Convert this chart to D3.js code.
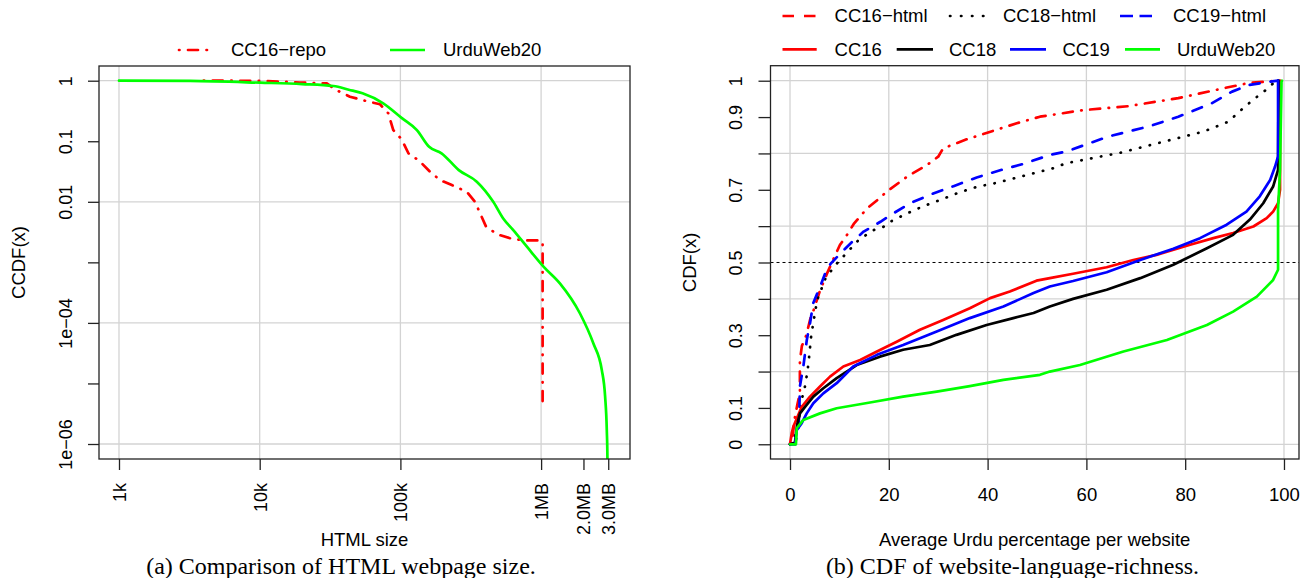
<!DOCTYPE html>
<html><head><meta charset="utf-8">
<script src="https://cdn.jsdelivr.net/npm/d3@7"></script>
<style>body{margin:0;background:#fff}svg{display:block}</style>
</head><body><svg id="c" width="1301" height="578"></svg>
<script>
// ---------------- Left panel data: CCDF of HTML size ----------------
const leftXTicks = [1e3, 1e4, 1e5, 1e6, 2e6, 3e6];
const leftXTickLabels = ["1k", "10k", "100k", "1MB", "2.0MB", "3.0MB"];
const leftXGrid = [1e3, 1e4, 1e5, 1e6];
const leftYTicks = [1, 0.1, 0.01, 1e-3, 1e-4, 1e-5, 1e-6];
const leftYTickLabels = ["1", "0.1", "0.01", "", "1e\u221204", "", "1e\u221206"];
const leftYGrid = [1, 1e-2, 1e-4, 1e-6];

const cc16RepoSize = [4.0e3, 6.45e3, 1.04e4, 1.93e4, 3.0e4, 3.5e4, 4.38e4, 5.6e4, 7.16e4, 8.2e4, 8.9e4, 1.02e5, 1.14e5, 1.36e5, 1.62e5, 1.91e5, 2.32e5, 2.96e5, 3.39e5, 3.68e5, 4.06e5, 4.88e5, 6.01e5, 7.47e5, 9.82e5, 1.025e6, 1.025e6];
const cc16RepoCCDF = [1.0, 1.0, 0.99, 0.934, 0.90, 0.70, 0.544, 0.467, 0.408, 0.29, 0.153, 0.108, 0.0633, 0.0477, 0.0315, 0.0229, 0.0189, 0.0147, 0.01, 0.0065, 0.0039, 0.0029, 0.0025, 0.0023, 0.0023, 0.0022, 4.9e-6];

const urduWebSize = [1e3, 3.2e3, 1.01e4, 2.0e4, 3.34e4, 4.3e4, 5.38e4, 7.55e4, 1.03e5, 1.31e5, 1.6e5, 1.96e5, 2.6e5, 3.49e5, 4.57e5, 5.38e5, 6.34e5, 7.9e5, 1.04e6, 1.36e6, 1.89e6, 2.35e6, 2.7e6, 2.85e6, 2.93e6, 2.96e6, 2.965e6];
const urduWebCCDF = [1, 0.99, 0.927, 0.88, 0.817, 0.71, 0.619, 0.424, 0.239, 0.153, 0.081, 0.0633, 0.0334, 0.0215, 0.01, 0.0053, 0.0034, 0.00183, 8.5e-4, 4.5e-4, 1.43e-4, 4.6e-5, 1.67e-5, 6.1e-6, 1.7e-6, 6e-7, 4e-7];

// ---------------- Right panel data: CDF of Urdu percentage ----------------
const rightXTicks = [0, 20, 40, 60, 80, 100];
const rightYTicks = [0, 0.1, 0.2, 0.3, 0.4, 0.5, 0.6, 0.7, 0.8, 0.9, 1];
const rightYTickLabels = ["0", "0.1", "", "0.3", "", "0.5", "", "0.7", "", "0.9", "1"];
const rightYGrid = [0, 0.2, 0.4, 0.6, 0.8, 1];
const rightRefLine = [0.5];

const cc16HtmlPct = [0, 0.3, 0.6, 1.0, 1.5, 2.0, 2.0, 2.4, 3.3, 4.2, 4.8, 6.0, 7.5, 8.8, 10.1, 11.4, 12.9, 15.6, 17.9, 19.6, 23.7, 27.7, 30.0, 31.0, 35.8, 41.1, 45.9, 50.6, 59.3, 68.5, 78.6, 88.7, 93.0, 98.8];
const cc16HtmlCdf = [0, 0.005, 0.03, 0.075, 0.11, 0.14, 0.23, 0.27, 0.30, 0.35, 0.37, 0.42, 0.47, 0.51, 0.548, 0.573, 0.606, 0.649, 0.674, 0.695, 0.736, 0.768, 0.791, 0.814, 0.839, 0.862, 0.883, 0.901, 0.919, 0.930, 0.952, 0.982, 0.994, 1.0];

const cc18HtmlPct = [0, 0.9, 1.7, 2.1, 3.1, 3.7, 4.3, 5.5, 7.2, 9.2, 11.5, 13.9, 16.9, 18.9, 20.3, 23.7, 27.0, 30.4, 34.1, 37.8, 41.8, 45.5, 49.2, 53.2, 55.9, 66.9, 77.0, 83.7, 88.7, 91.3, 93.7, 96.3, 98.0, 98.8];
const cc18HtmlCdf = [0, 0.017, 0.053, 0.108, 0.163, 0.218, 0.30, 0.397, 0.457, 0.493, 0.527, 0.562, 0.589, 0.598, 0.612, 0.635, 0.655, 0.672, 0.692, 0.708, 0.719, 0.732, 0.745, 0.759, 0.773, 0.802, 0.837, 0.86, 0.887, 0.919, 0.947, 0.974, 0.995, 1.0];

const cc19HtmlPct = [0, 1.0, 1.2, 1.7, 1.9, 2.0, 2.7, 3.4, 4.05, 4.7, 6.1, 7.4, 8.2, 10.2, 12.6, 14.9, 18.3, 20.9, 24.3, 29.0, 33.1, 37.8, 43.1, 47.2, 52.6, 55.9, 64.3, 72.8, 78.6, 85.4, 89.5, 92.9, 98.0, 98.8];
const cc19HtmlCdf = [0, 0.003, 0.012, 0.039, 0.10, 0.159, 0.214, 0.287, 0.333, 0.388, 0.434, 0.48, 0.496, 0.525, 0.557, 0.585, 0.612, 0.635, 0.663, 0.69, 0.71, 0.734, 0.756, 0.771, 0.796, 0.805, 0.846, 0.875, 0.901, 0.938, 0.97, 0.988, 0.999, 1.0];

const cc16Pct = [0, 0.34, 0.67, 2.37, 4.05, 6.07, 8.1, 10.8, 14.2, 17.6, 21.6, 26.3, 31.0, 36.4, 40.5, 44.5, 49.9, 52.6, 57.3, 64.1, 69.5, 74.2, 81.0, 85.7, 89.7, 93.8, 96.5, 97.8, 98.8, 99.2, 99.2];
const cc16Cdf = [0, 0.03, 0.048, 0.103, 0.131, 0.159, 0.186, 0.214, 0.232, 0.255, 0.282, 0.315, 0.342, 0.374, 0.402, 0.42, 0.45, 0.457, 0.469, 0.487, 0.507, 0.521, 0.549, 0.567, 0.581, 0.599, 0.622, 0.64, 0.663, 0.70, 1.0];

const cc18Pct = [0, 1.0, 1.4, 1.68, 2.02, 3.04, 4.72, 6.74, 9.45, 13.5, 18.2, 22.9, 28.3, 33.7, 39.8, 45.2, 49.3, 52.6, 57.3, 64.1, 70.9, 77.6, 84.4, 89.7, 93.1, 95.8, 97.8, 98.8, 98.9];
const cc18Cdf = [0, 0.005, 0.05, 0.067, 0.085, 0.103, 0.131, 0.154, 0.182, 0.218, 0.241, 0.26, 0.273, 0.301, 0.328, 0.347, 0.361, 0.379, 0.4, 0.425, 0.457, 0.494, 0.539, 0.576, 0.618, 0.663, 0.709, 0.755, 1.0];

const cc19Pct = [0, 1.1, 1.2, 1.36, 2.37, 3.38, 4.72, 6.74, 9.45, 12.8, 17.6, 22.9, 29.7, 36.4, 43.2, 49.3, 52.6, 57.3, 64.1, 70.9, 77.6, 83.0, 88.4, 92.4, 95.1, 97.2, 98.2, 98.8, 98.8];
const cc19Cdf = [0, 0, 0.02, 0.039, 0.058, 0.085, 0.113, 0.14, 0.168, 0.214, 0.246, 0.273, 0.31, 0.347, 0.379, 0.416, 0.434, 0.449, 0.473, 0.507, 0.538, 0.567, 0.604, 0.64, 0.682, 0.727, 0.764, 0.792, 1.0];

const urduPct = [0, 1.2, 1.36, 2.69, 6.07, 9.45, 16.2, 22.9, 29.7, 36.4, 43.2, 50.6, 52.6, 58.7, 67.5, 76.3, 84.4, 89.7, 94.5, 97.8, 98.8, 98.8, 99.2, 99.5, 99.6];
const urduCdf = [0, 0, 0.044, 0.067, 0.085, 0.099, 0.115, 0.131, 0.145, 0.16, 0.177, 0.191, 0.2, 0.218, 0.255, 0.287, 0.328, 0.365, 0.406, 0.452, 0.48, 0.645, 0.755, 0.997, 1.0];

// ---------------- text ----------------
const leftLegend = ["CC16\u2212repo", "UrduWeb20"];
const rightLegendRow1 = ["CC16\u2212html", "CC18\u2212html", "CC19\u2212html"];
const rightLegendRow2 = ["CC16", "CC18", "CC19", "UrduWeb20"];
const captions = ["(a) Comparison of HTML webpage size.", "(b) CDF of website-language-richness."];

// ---------------- drawing ----------------
const SANS = "'Liberation Sans', Arial, Helvetica, sans-serif";
const SERIF = "'Liberation Serif', 'Times New Roman', serif";
const LW = 2.7;
const GRID = "#d3d3d3";
const AX = "#222";
const FS = 18.5;
const DOTDASH = "0.5,8.5,10,8.5";
const DOTTED = "0.4,9.6";
const DASHED = "10,11";

const svg = d3.select("#c");
svg.append("rect").attr("width", 1301).attr("height", 578).attr("fill", "#fff");
const defs = svg.append("defs");

function makePanel(id, box) {
  defs.append("clipPath").attr("id", id).append("rect")
    .attr("x", box.l).attr("y", box.t).attr("width", box.r - box.l).attr("height", box.b - box.t);
  return svg.append("g");
}

// ===== Left panel =====
const LB = {l: 99, r: 630, t: 66, b: 459};
const Lx = d3.scaleLog().domain([Math.pow(10, 2.8579), Math.pow(10, 6.6318)]).range([LB.l, LB.r]);
const Ly = d3.scaleLog().domain([Math.pow(10, -6.2477), Math.pow(10, 0.2428)]).range([LB.b, LB.t]);
const gL = makePanel("clipL", LB);

gL.selectAll("line.gx").data(leftXGrid).join("line").attr("class", "gx")
  .attr("x1", d => Lx(d)).attr("x2", d => Lx(d)).attr("y1", LB.t).attr("y2", LB.b)
  .attr("stroke", GRID).attr("stroke-width", 1.3);
gL.selectAll("line.gy").data(leftYGrid).join("line").attr("class", "gy")
  .attr("y1", d => Ly(d)).attr("y2", d => Ly(d)).attr("x1", LB.l).attr("x2", LB.r)
  .attr("stroke", GRID).attr("stroke-width", 1.3);

const lineL = d3.line().x(d => Lx(d[0])).y(d => Ly(d[1]));
const lineLSmooth = d3.line().x(d => Lx(d[0])).y(d => Ly(d[1])).curve(d3.curveMonotoneX);
const gLc = gL.append("g").attr("clip-path", "url(#clipL)");
gLc.append("path").datum(d3.zip(cc16RepoSize, cc16RepoCCDF)).attr("d", lineL)
  .attr("fill", "none").attr("stroke", "#ff0000").attr("stroke-width", LW)
  .attr("stroke-dasharray", DOTDASH).attr("stroke-linecap", "round").attr("stroke-linejoin", "round");
gLc.append("path").datum(d3.zip(urduWebSize, urduWebCCDF)).attr("d", lineLSmooth)
  .attr("fill", "none").attr("stroke", "#00ff00").attr("stroke-width", LW)
  .attr("stroke-linecap", "round").attr("stroke-linejoin", "round");

gL.append("rect").attr("x", LB.l).attr("y", LB.t).attr("width", LB.r - LB.l).attr("height", LB.b - LB.t)
  .attr("fill", "none").attr("stroke", AX).attr("stroke-width", 1.3);

// x axis (left)
const axLB = gL.append("g").attr("transform", `translate(0,${LB.b})`)
  .call(d3.axisBottom(Lx).tickValues(leftXTicks).tickFormat((d, i) => leftXTickLabels[i]).tickSize(11));
axLB.select(".domain").remove();
axLB.selectAll(".tick line").attr("stroke", AX).attr("stroke-width", 1.3);
axLB.selectAll(".tick text").attr("transform", "rotate(-90)").attr("text-anchor", "end")
  .attr("x", -24).attr("y", 0).attr("dy", "0.35em")
  .attr("font-family", SANS).attr("font-size", 18).attr("fill", "#000");

// y axis (left)
const axLL = gL.append("g").attr("transform", `translate(${LB.l},0)`)
  .call(d3.axisLeft(Ly).tickValues(leftYTicks).tickFormat((d, i) => leftYTickLabels[i]).tickSize(11));
axLL.select(".domain").remove();
axLL.selectAll(".tick line").attr("stroke", AX).attr("stroke-width", 1.3);
axLL.selectAll(".tick text").attr("transform", "rotate(-90)").attr("text-anchor", "middle")
  .attr("x", 0).attr("y", -33).attr("dy", "0.35em")
  .attr("font-family", SANS).attr("font-size", 18).attr("fill", "#000");

gL.append("text").attr("transform", `translate(19,${(LB.t + LB.b) / 2}) rotate(-90)`)
  .attr("text-anchor", "middle").attr("dy", "0.35em").attr("font-family", SANS).attr("font-size", FS)
  .text("CCDF(x)");
gL.append("text").attr("x", (LB.l + LB.r) / 2).attr("y", 540).attr("dy", "0.35em")
  .attr("text-anchor", "middle").attr("font-family", SANS).attr("font-size", FS).text("HTML size");

// left legend
gL.append("line").attr("x1", 179).attr("x2", 208).attr("y1", 50).attr("y2", 50)
  .attr("stroke", "#ff0000").attr("stroke-width", LW).attr("stroke-dasharray", DOTDASH).attr("stroke-linecap", "round");
gL.append("text").attr("x", 231).attr("y", 50).attr("dy", "0.35em").attr("font-family", SANS).attr("font-size", FS).text(leftLegend[0]);
gL.append("line").attr("x1", 390).attr("x2", 425).attr("y1", 50).attr("y2", 50)
  .attr("stroke", "#00ff00").attr("stroke-width", LW);
gL.append("text").attr("x", 443).attr("y", 50).attr("dy", "0.35em").attr("font-family", SANS).attr("font-size", FS).text(leftLegend[1]);

svg.append("text").attr("x", 341).attr("y", 566).attr("dy", "0.32em").attr("text-anchor", "middle")
  .attr("font-family", SERIF).attr("font-size", 24).text(captions[0]);

// ===== Right panel =====
const RB = {l: 770.5, r: 1299, t: 65.7, b: 459};
const Rx = d3.scaleLinear().domain([-3.95, 103.04]).range([RB.l, RB.r]);
const Ry = d3.scaleLinear().domain([-0.0405, 1.0413]).range([RB.b, RB.t]);
const gR = makePanel("clipR", RB);

gR.selectAll("line.gx").data(rightXTicks).join("line").attr("class", "gx")
  .attr("x1", d => Rx(d)).attr("x2", d => Rx(d)).attr("y1", RB.t).attr("y2", RB.b)
  .attr("stroke", GRID).attr("stroke-width", 1.3);
gR.selectAll("line.gy").data(rightYGrid).join("line").attr("class", "gy")
  .attr("y1", d => Ry(d)).attr("y2", d => Ry(d)).attr("x1", RB.l).attr("x2", RB.r)
  .attr("stroke", GRID).attr("stroke-width", 1.3);
gR.selectAll("line.ref").data(rightRefLine).join("line").attr("class", "ref")
  .attr("y1", d => Ry(d)).attr("y2", d => Ry(d)).attr("x1", RB.l).attr("x2", RB.r)
  .attr("stroke", "#000").attr("stroke-width", 1).attr("stroke-dasharray", "3,3");

const lineR = d3.line().x(d => Rx(d[0])).y(d => Ry(d[1]));
const gRc = gR.append("g").attr("clip-path", "url(#clipR)");
const rSeries = [
  {x: cc16HtmlPct, y: cc16HtmlCdf, c: "#ff0000", dash: DOTDASH},
  {x: cc18HtmlPct, y: cc18HtmlCdf, c: "#000000", dash: DOTTED},
  {x: cc19HtmlPct, y: cc19HtmlCdf, c: "#0000ff", dash: DASHED},
  {x: cc16Pct, y: cc16Cdf, c: "#ff0000", dash: null},
  {x: cc18Pct, y: cc18Cdf, c: "#000000", dash: null},
  {x: cc19Pct, y: cc19Cdf, c: "#0000ff", dash: null},
  {x: urduPct, y: urduCdf, c: "#00ff00", dash: null}
];
rSeries.forEach(s => {
  const p = gRc.append("path").datum(d3.zip(s.x, s.y)).attr("d", lineR)
    .attr("fill", "none").attr("stroke", s.c).attr("stroke-width", LW)
    .attr("stroke-linecap", "round").attr("stroke-linejoin", "round");
  if (s.dash) p.attr("stroke-dasharray", s.dash);
});

gR.append("rect").attr("x", RB.l).attr("y", RB.t).attr("width", RB.r - RB.l).attr("height", RB.b - RB.t)
  .attr("fill", "none").attr("stroke", AX).attr("stroke-width", 1.3);

const axRB = gR.append("g").attr("transform", `translate(0,${RB.b})`)
  .call(d3.axisBottom(Rx).tickValues(rightXTicks).tickFormat(d3.format("d")).tickSize(11));
axRB.select(".domain").remove();
axRB.selectAll(".tick line").attr("stroke", AX).attr("stroke-width", 1.3);
axRB.selectAll(".tick text").attr("y", 36).attr("dy", "0.35em")
  .attr("font-family", SANS).attr("font-size", FS).attr("fill", "#000");

const axRL = gR.append("g").attr("transform", `translate(${RB.l},0)`)
  .call(d3.axisLeft(Ry).tickValues(rightYTicks).tickFormat((d, i) => rightYTickLabels[i]).tickSize(12));
axRL.select(".domain").remove();
axRL.selectAll(".tick line").attr("stroke", AX).attr("stroke-width", 1.3);
axRL.selectAll(".tick text").attr("transform", "rotate(-90)").attr("text-anchor", "middle")
  .attr("x", 0).attr("y", -35).attr("dy", "0.35em")
  .attr("font-family", SANS).attr("font-size", 18).attr("fill", "#000");

gR.append("text").attr("transform", `translate(690,${(RB.t + RB.b) / 2}) rotate(-90)`)
  .attr("text-anchor", "middle").attr("dy", "0.35em").attr("font-family", SANS).attr("font-size", FS)
  .text("CDF(x)");
gR.append("text").attr("x", (RB.l + RB.r) / 2).attr("y", 540).attr("dy", "0.35em")
  .attr("text-anchor", "middle").attr("font-family", SANS).attr("font-size", FS)
  .text("Average Urdu percentage per website");

// right legend
const leg = [
  {x1: 782.5, x2: 816.7, y: 16, c: "#ff0000", dash: "11.5,10", cap: "butt", tx: 834.6, t: rightLegendRow1[0]},
  {x1: 950, x2: 983.5, y: 16, c: "#000000", dash: "0.4,10.6", cap: "round", tx: 1003, t: rightLegendRow1[1]},
  {x1: 1120, x2: 1152, y: 16, c: "#0000ff", dash: "13,6.5", cap: "butt", tx: 1173, t: rightLegendRow1[2]},
  {x1: 782.5, x2: 816.7, y: 49.3, c: "#ff0000", dash: null, cap: "butt", tx: 834.6, t: rightLegendRow2[0]},
  {x1: 896.7, x2: 933, y: 49.3, c: "#000000", dash: null, cap: "butt", tx: 949, t: rightLegendRow2[1]},
  {x1: 1010, x2: 1046, y: 49.3, c: "#0000ff", dash: null, cap: "butt", tx: 1062.5, t: rightLegendRow2[2]},
  {x1: 1125, x2: 1160, y: 49.3, c: "#00ff00", dash: null, cap: "butt", tx: 1177, t: rightLegendRow2[3]}
];
leg.forEach(l => {
  const ln = gR.append("line").attr("x1", l.x1).attr("x2", l.x2).attr("y1", l.y).attr("y2", l.y)
    .attr("stroke", l.c).attr("stroke-width", LW).attr("stroke-linecap", l.cap);
  if (l.dash) ln.attr("stroke-dasharray", l.dash);
  gR.append("text").attr("x", l.tx).attr("y", l.y).attr("dy", "0.35em")
    .attr("font-family", SANS).attr("font-size", FS).text(l.t);
});

svg.append("text").attr("x", 1012.5).attr("y", 566).attr("dy", "0.32em").attr("text-anchor", "middle")
  .attr("font-family", SERIF).attr("font-size", 24).text(captions[1]);
</script></body></html>
